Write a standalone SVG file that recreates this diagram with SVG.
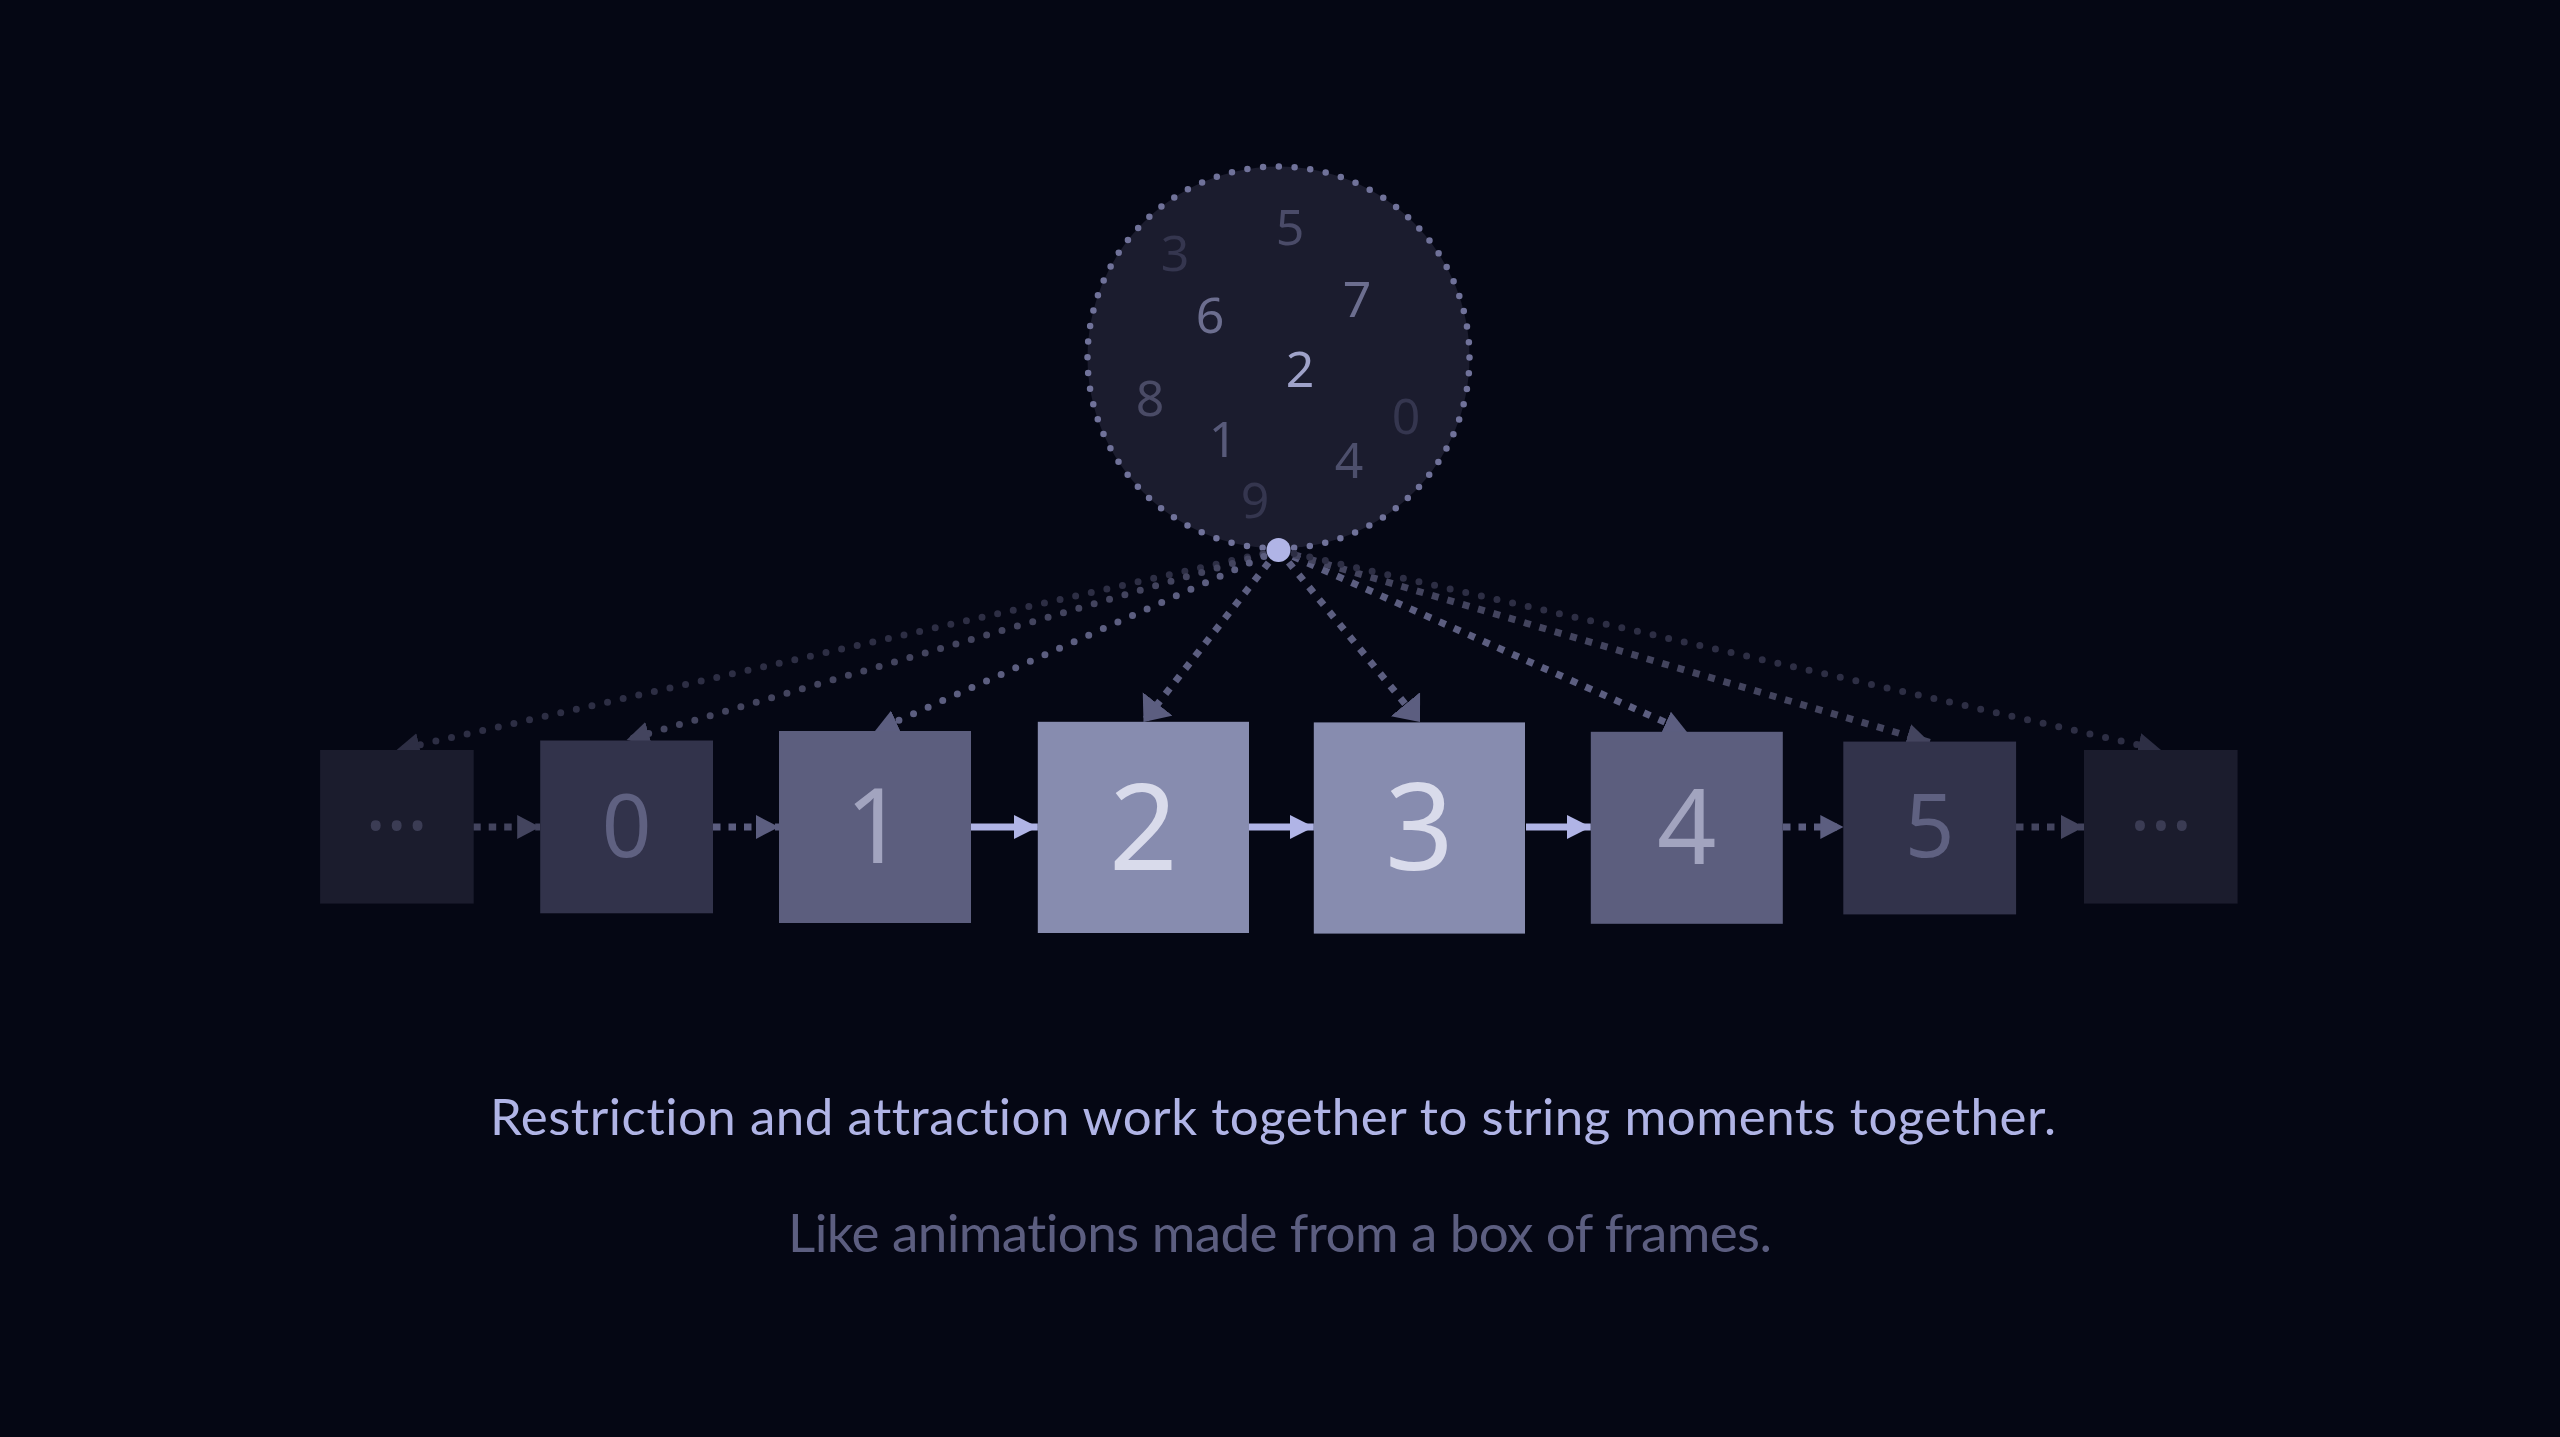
<svg xmlns="http://www.w3.org/2000/svg" width="2560" height="1437" viewBox="0 0 2560 1437">
  <defs>
    <style>
      .num { font-family: "Noto Sans", "Open Sans", "DejaVu Sans", sans-serif; text-anchor: middle; }
      .cap { font-family: Lato, "Noto Sans", "DejaVu Sans", sans-serif; font-variant-ligatures: none; font-feature-settings: "liga" 0, "clig" 0; }
      .dot { fill: none; stroke-width: 7; stroke-linecap: round; stroke-dasharray: 0 16; }
      .sq { fill: none; stroke-width: 7; stroke-linecap: butt; stroke-dasharray: 7 9; }
      .hsq { fill: none; stroke-width: 7; stroke-linecap: butt; stroke-dasharray: 7.5 8; }
      .solid { fill: none; stroke: #b0b4e6; stroke-width: 7; }
      .c1 { stroke: #2d2e44; }
      .c2 { stroke: #43445e; }
      .c3 { stroke: #5c5e80; }
    </style>
    <marker id="h1" viewBox="0 0 23 24" refX="23" refY="12" markerWidth="23" markerHeight="24" markerUnits="userSpaceOnUse" orient="auto"><path d="M0,0 L23,12 L0,24 Z" fill="#2d2e44"/></marker>
    <marker id="h2" viewBox="0 0 23 24" refX="23" refY="12" markerWidth="23" markerHeight="24" markerUnits="userSpaceOnUse" orient="auto"><path d="M0,0 L23,12 L0,24 Z" fill="#43445e"/></marker>
    <marker id="h3" viewBox="0 0 23 24" refX="23" refY="12" markerWidth="23" markerHeight="24" markerUnits="userSpaceOnUse" orient="auto"><path d="M0,0 L23,12 L0,24 Z" fill="#5c5e80"/></marker>
    <marker id="h3w" viewBox="0 0 23 38" refX="23" refY="19" markerWidth="23" markerHeight="38" markerUnits="userSpaceOnUse" orient="auto"><path d="M0,0 L23,19 L0,38 Z" fill="#5c5e80"/></marker>
    <marker id="h4" viewBox="0 0 24 24" refX="24" refY="12" markerWidth="24" markerHeight="24" markerUnits="userSpaceOnUse" orient="auto"><path d="M0,0 L24,12 L0,24 Z" fill="#b0b4e6"/></marker>
  </defs>

  <rect width="2560" height="1437" fill="#050714"/>

  <g id="clock">
    <circle cx="1278.5" cy="357.5" r="191" fill="#1b1c2e"/>
    <circle cx="1278.5" cy="357.5" r="191" fill="none" stroke="#70729a" stroke-width="6.5" stroke-linecap="round" stroke-dasharray="0 15.79"/>
    <g class="num" font-size="50">
      <text x="1290" y="245" fill="#4a4b68">5</text>
      <text x="1175" y="271" fill="#35364f">3</text>
      <text x="1210" y="333" fill="#6c6e8f">6</text>
      <text x="1357" y="317" fill="#6c6e8f">7</text>
      <text x="1300" y="387" fill="#9fa2c9">2</text>
      <text x="1150" y="416" fill="#4a4b66">8</text>
      <text x="1406" y="434" fill="#35364f">0</text>
      <text x="1223" y="457" fill="#585a7a">1</text>
      <text x="1349" y="478" fill="#4d4f6c">4</text>
      <text x="1255" y="518" fill="#35364f">9</text>
    </g>
  </g>

  <g id="connectors">
    <line class="dot c1" x1="1278.5" y1="550" x2="396.6" y2="750" marker-end="url(#h1)"/>
    <line class="dot c2" x1="1278.5" y1="550" x2="626.6" y2="740" marker-end="url(#h2)"/>
    <line class="dot c3" x1="1278.5" y1="550" x2="875" y2="731" marker-end="url(#h3)"/>
    <line class="sq c3" x1="1278.5" y1="550" x2="1143.5" y2="722" marker-end="url(#h3w)"/>
    <line class="sq c3" x1="1278.5" y1="550" x2="1420" y2="722" marker-end="url(#h3w)"/>
    <line class="sq c3" x1="1278.5" y1="550" x2="1687" y2="732" marker-end="url(#h3)"/>
    <line class="sq c2" x1="1278.5" y1="550" x2="1929.7" y2="742.3" marker-end="url(#h2)"/>
    <line class="dot c1" x1="1278.5" y1="550" x2="2161" y2="750" marker-end="url(#h1)"/>

    <line class="hsq c2" x1="473.2" y1="827" x2="540.2" y2="827" marker-end="url(#h2)"/>
    <line class="hsq c3" x1="713" y1="827" x2="779" y2="827" marker-end="url(#h3)"/>
    <line class="solid" x1="971" y1="827" x2="1037.8" y2="827" marker-end="url(#h4)"/>
    <line class="solid" x1="1249" y1="827" x2="1313.8" y2="827" marker-end="url(#h4)"/>
    <line class="solid" x1="1526" y1="827" x2="1590.8" y2="827" marker-end="url(#h4)"/>
    <line class="hsq c3" x1="1783" y1="827" x2="1843.3" y2="827" marker-end="url(#h3)"/>
    <line class="hsq c2" x1="2016" y1="827" x2="2084" y2="827" marker-end="url(#h2)"/>
  </g>

  <g id="anchor">
    <circle cx="1278.5" cy="550" r="12" fill="#b0b4e6"/>
  </g>

  <g id="frame-prev-ellipsis">
    <rect x="320.1" y="750" width="153.6" height="153.6" fill="#1b1c2d"/>
    <text class="num" x="396.6" y="830" font-size="80" fill="#3b3c54">…</text>
  </g>
  <g id="frame-0">
    <rect x="540.2" y="740.5" width="172.8" height="172.8" fill="#32334b"/>
    <text class="num" x="626.6" y="857" font-size="87" fill="#5f6181">0</text>
  </g>
  <g id="frame-1">
    <rect x="779" y="731" width="192" height="192" fill="#5c5e7e"/>
    <text class="num" x="875" y="863" font-size="104" fill="#a2a4bf">1</text>
  </g>
  <g id="frame-2">
    <rect x="1037.8" y="721.8" width="211.2" height="211.2" fill="#878caf"/>
    <text class="num" x="1143.4" y="869.5" font-size="120" fill="#d9dbeb">2</text>
  </g>
  <g id="frame-3">
    <rect x="1313.8" y="722.4" width="211.2" height="211.2" fill="#878caf"/>
    <text class="num" x="1419.4" y="869.5" font-size="120" fill="#d9dbeb">3</text>
  </g>
  <g id="frame-4">
    <rect x="1590.8" y="731.8" width="192" height="192" fill="#5c5e7e"/>
    <text class="num" x="1686.8" y="863.5" font-size="104" fill="#a2a4bf">4</text>
  </g>
  <g id="frame-5">
    <rect x="1843.3" y="741.6" width="172.8" height="172.8" fill="#32334b"/>
    <text class="num" x="1929.7" y="857" font-size="87" fill="#5f6181">5</text>
  </g>
  <g id="frame-next-ellipsis">
    <rect x="2084" y="750" width="153.6" height="153.6" fill="#1b1c2d"/>
    <text class="num" x="2160.8" y="830" font-size="80" fill="#3b3c54">…</text>
  </g>

  <g id="captions">
    <text class="cap" x="490" y="1135" font-size="51" fill="#b0b4e6" textLength="1566" lengthAdjust="spacing">Restriction and attraction work together to string moments together.</text>
    <text class="cap" x="788" y="1252" font-size="53" fill="#5c5e80" textLength="984" lengthAdjust="spacing">Like animations made from a box of frames.</text>
  </g>
</svg>
